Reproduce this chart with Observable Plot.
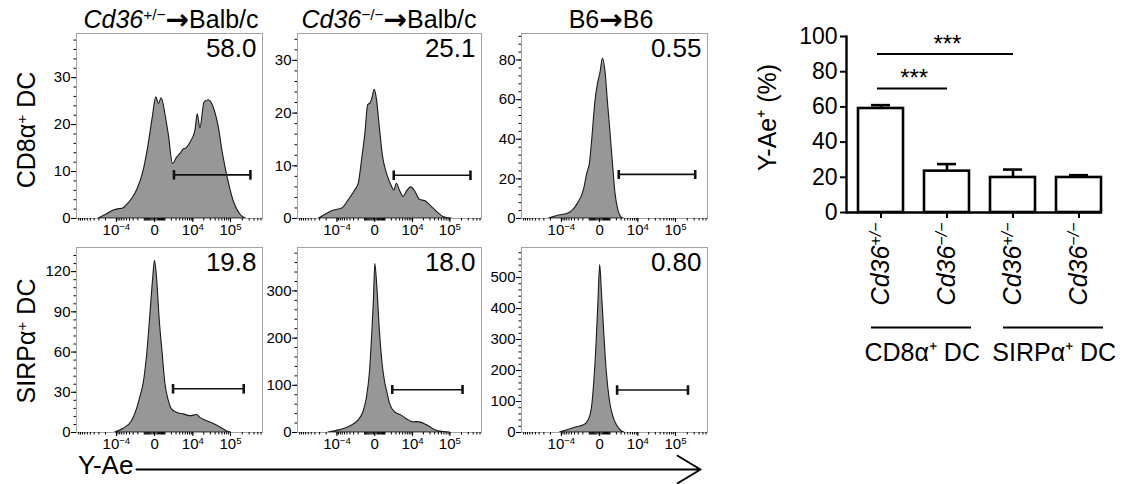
<!DOCTYPE html>
<html>
<head>
<meta charset="utf-8">
<script src="https://cdn.jsdelivr.net/npm/d3@7"></script>
<script src="https://cdn.jsdelivr.net/npm/@observablehq/plot@0.6"></script>
<style>
  html, body { margin: 0; padding: 0; background: #fff; }
  #fig { position: relative; width: 1136px; height: 484px; overflow: hidden;
         font-family: "Liberation Sans", Arial, Helvetica, sans-serif; color: #000; background: #fff; }
  #fig svg { position: absolute; }
</style>
</head>
<body>
<div id="fig"></div>
<script>
// ---------------- data ----------------
// column titles (donor -> recipient) and row labels (DC subset)
const colTitleItalic = ["Cd36", "Cd36", ""];
const colTitleSup = ["+/−", "−/−", ""];
const colTitleDonor = ["", "", "B6"];
const colTitleRecipient = ["Balb/c", "Balb/c", "B6"];
const rowLabelMain = ["CD8α", "SIRPα"];
const rowLabelSup = ["+", "+"];
const rowLabelEnd = [" DC", " DC"];
const axisTitle = "Y-Ae";

// histogram curves: [channel (0-100 display channel), count]
const histCd36HetCD8 = [[12,0],[16,0.8],[20,1.7],[23,2.0],[25,2.1],[27,2.8],[30,4.2],[33,6.4],[36,10],[38.8,15.8],[41,21.5],[42.9,25.8],[44.3,24.4],[45.8,25.6],[47.8,22.2],[49.6,17.9],[51.9,11.6],[54,12.9],[56,13.8],[57.6,14.7],[59,14.9],[61.2,16.1],[63.9,18.6],[65.2,22.2],[66.6,19.2],[68.8,24.7],[71.1,25.2],[72.2,24.9],[73.8,23.6],[76.5,19.4],[78.8,13.6],[81.9,7.6],[84.6,3.6],[88.2,0.8],[91,0]];
const histCd36KoCD8 = [[11.7,0],[16.2,0.9],[19.8,1.5],[24.3,1.9],[27.9,3.5],[31.5,5.4],[33.3,6.6],[35.1,11.1],[36.9,16.1],[38.4,21.5],[39.6,21.8],[40.5,22.5],[42,24.4],[43.2,22.5],[44.7,17.4],[46.5,11.7],[48.6,8.5],[51.4,6.0],[52.6,5.3],[54,6.6],[55.9,5.1],[57.7,4.1],[59.5,5.1],[61.8,5.9],[64,5.1],[66.7,3.5],[69.4,3.3],[72.1,2.5],[75.7,1.3],[79.3,0.3],[83.8,0]];
const histB6CD8 = [[14.8,0],[20.2,1.5],[24.6,2.3],[27.3,3.7],[30,7],[33.6,14.5],[35.4,22.8],[36.8,27.8],[38,39.5],[39.8,59.5],[41.1,67.8],[42.5,73.7],[43.8,80.8],[45.2,73.7],[46.4,59.5],[47.9,42.8],[49.3,26.2],[50.5,12.8],[52,4.5],[54.1,0.3],[55,0]];
const histCd36HetSIRP = [[20.8,0],[25.3,2.8],[29.8,8.4],[32.5,17.3],[34.3,26.2],[36.1,36.4],[37.9,56.7],[39.7,87.3],[41.1,112.7],[42.2,128],[43.3,115.3],[44.7,84.7],[46.3,59.3],[47.8,36.4],[49.6,23.7],[51.3,17.3],[54,14.8],[57.6,13.5],[61.2,12.2],[64.8,13],[66.6,10.9],[69.3,8.9],[73.8,6.4],[77.4,3.8],[81,0.8],[83.1,0]];
const histCd36KoSIRP = [[16.8,0],[23.1,5],[28.6,12.9],[33.1,25],[35.8,42.9],[37.6,71],[39.4,128.6],[40.7,214],[41.6,286],[42.3,357],[43.4,307],[44.8,214],[46.3,143],[47.6,107],[48.8,85.7],[50.3,60.7],[53,42.9],[56.6,35.7],[59.3,28.6],[62.9,21.4],[64.5,22],[66.5,21.4],[70.2,15.7],[73.8,7.1],[77.4,2.1],[82.8,0]];
const histB6SIRP = [[20.7,0],[26.1,9.6],[29.7,17],[33.3,22.3],[36,38.3],[37.8,75.5],[39.1,160.6],[40.2,267],[41.4,426.6],[42.3,540],[43.2,458.5],[44.5,320],[45.9,192.6],[47.4,107.4],[49.2,54.3],[51.4,22.3],[54.1,3.2],[55.3,0]];

const histCurves = [histCd36HetCD8, histCd36KoCD8, histB6CD8, histCd36HetSIRP, histCd36KoSIRP, histB6SIRP];
const histYMax = [39.4, 35.1, 93.4, 138, 392, 597];
const histYTicks = [[0,10,20,30],[0,10,20,30],[0,20,40,60,80],[0,30,60,90,120],[0,100,200,300],[0,100,200,300,400,500]];
const histYMinorStep = [2, 2, 4, 6, 20, 20];
const gatePercent = ["58.0", "25.1", "0.55", "19.8", "18.0", "0.80"];
const gateLow = [52.4, 52.3, 52.3, 51.9, 51.5, 51.4];
const gateHigh = [93.5, 94, 93.4, 89.9, 89.7, 89.5];
const gateLevel = [9.3, 8.2, 22.3, 32.6, 90.7, 137];

// Y-Ae axis (biexponential display)
const xMajorValues = [-1e4, 0, 1e4, 1e5];
const xMajorBase = ["10", "0", "10", "10"];
const xMajorExp = ["−4", "", "4", "5"];

// bar chart
const barGroup = ["CD8α⁺ DC", "CD8α⁺ DC", "SIRPα⁺ DC", "SIRPα⁺ DC"];
const barGenotype = ["+/−", "−/−", "+/−", "−/−"];
const barMean = [59.1, 23.5, 19.9, 19.9];
const barSem = [1.9, 4.0, 4.5, 1.3];
const barYTicks = [0, 20, 40, 60, 80, 100];
const barYLabel = "Y-Ae⁺ (%)";
const sigFrom = [0, 0];
const sigTo = [1, 2];
const sigLevel = [70.5, 90];
const sigText = ["***", "***"];

// ---------------- helpers ----------------
const FONT = "Liberation Sans, Arial, Helvetica, sans-serif";
const fig = document.getElementById("fig");
function place(el, left, top) {
  el.style.left = left + "px";
  el.style.top = top + "px";
  fig.appendChild(el);
}
function superscriptLabels(svg, selector, splitAt) {
  d3.select(svg).selectAll(selector).each(function () {
    const t = d3.select(this);
    const full = t.text();
    const k = splitAt(full);
    if (k <= 0 || k >= full.length) return;
    t.text(null);
    t.append("tspan").text(full.slice(0, k));
    t.append("tspan").attr("baseline-shift", "super").attr("font-size", "64%").text(full.slice(k));
  });
}

// biexponential-like display transform: fluorescence value -> display channel
const toChannel = v => 42 + 9.2 * Math.sign(v) * Math.log1p(Math.abs(v) / 1200);
const xMajorCh = xMajorValues.map(toChannel);
const xLabelByCh = new Map(xMajorCh.map((c, i) => [c, xMajorBase[i] + xMajorExp[i]]));
const xMinorCh = [];
for (const dec of [1e2, 1e3, 1e4, 1e5]) {
  for (let k = 1; k < 10; k++) {
    const p = toChannel(k * dec), n = toChannel(-k * dec);
    if (p <= 100) xMinorCh.push(p);
    if (n >= 0) xMinorCh.push(n);
  }
}
xMinorCh.push(42);

// ---------------- histograms ----------------
const colLeft = [76, 297, 521];
const colWidth = [186, 184, 186];
const rowTop = [33, 247];
const frameH = 185;
const ML = 46, MR = 4, MT = 4, MB = 34;

histCurves.forEach((curve, i) => {
  const col = i % 3, row = Math.floor(i / 3);
  const W = colWidth[col];
  const yMinor = d3.range(0, histYMax[i], histYMinorStep[i]);
  const gate = [{lo: gateLow[i], hi: gateHigh[i], y: gateLevel[i]}];
  const svg = Plot.plot({
    width: W + ML + MR, height: frameH + MT + MB,
    marginLeft: ML, marginRight: MR, marginTop: MT, marginBottom: MB,
    style: {fontFamily: FONT, background: "none", overflow: "visible", color: "#000"},
    x: {domain: [0, 100], label: null},
    y: {domain: [0, histYMax[i]], label: null},
    marks: [
      Plot.areaY(curve, {x: d => d[0], y: d => d[1], fill: "#979797", stroke: "#1a1a1a", strokeWidth: 1.1, curve: "monotone-x"}),
      Plot.frame({stroke: "#a3a3a3", strokeWidth: 1}),
      Plot.axisY({ticks: histYTicks[i], tickSize: 5, tickPadding: 1, fontSize: 15, label: null}),
      Plot.axisY({ticks: yMinor, tickSize: 2.5, tickFormat: () => "", label: null}),
      Plot.axisX({ticks: xMajorCh, tickSize: 4, tickPadding: 2, fontSize: 15, tickFormat: d => xLabelByCh.get(d), label: null}),
      Plot.axisX({ticks: xMinorCh, tickSize: 2.5, tickFormat: () => "", label: null}),
      Plot.link(gate, {x1: "lo", x2: "hi", y1: "y", y2: "y", stroke: "#111", strokeWidth: 1.6, marker: "tick"}),
      Plot.text([gatePercent[i]], {text: d => d, frameAnchor: "top-right", lineAnchor: "top", dx: -6, dy: 5, fontSize: 26})
    ]
  });
  superscriptLabels(svg, '[aria-label="x-axis tick label"] text', s => (s.startsWith("10") ? 2 : 0));
  place(svg, colLeft[col] - ML, rowTop[row] - MT);
});

// ---------------- Y-Ae arrow ----------------
const arrowSvg = Plot.plot({
  width: 568, height: 30, margin: 2,
  style: {background: "none", overflow: "visible"},
  x: {domain: [0, 1], axis: null},
  y: {domain: [0, 1], axis: null},
  marks: [
    Plot.arrow([axisTitle], {x1: 0, x2: 1, y1: 0.5, y2: 0.5, stroke: "#000", strokeWidth: 2, headLength: 20, headAngle: 62})
  ]
});
place(arrowSvg, 134, 454);

// ---------------- bar chart ----------------
const bars = barMean.map((m, i) => ({key: i + "|" + barGroup[i] + "|" + barGenotype[i], group: barGroup[i], geno: barGenotype[i], mean: m, sem: barSem[i]}));
const keys = bars.map(d => d.key);
const pI = 0.313, pO = 0.084, bandW = 256;
const step = bandW / (keys.length - pI + 2 * pO);
const groups = [
  {label: barGroup[0], from: keys[0], to: keys[1]},
  {label: barGroup[2], from: keys[2], to: keys[3]}
];
const sig = sigFrom.map((f, i) => ({from: keys[f], to: keys[sigTo[i]], y: sigLevel[i], text: sigText[i], span: sigTo[i] - f}));

const BML = 110, BMT = 36, BMR = 34, BH = 176, BMB = 160;
const barSvg = Plot.plot({
  width: BML + bandW + BMR, height: BMT + BH + BMB,
  marginLeft: BML, marginRight: BMR, marginTop: BMT, marginBottom: BMB,
  style: {fontFamily: FONT, background: "none", overflow: "visible", color: "#000"},
  x: {type: "band", domain: keys, paddingInner: pI, paddingOuter: pO, align: 0.955, label: null},
  y: {domain: [0, 100], label: null},
  marks: [
    Plot.barY(bars, {x: "key", y: "mean", fill: "#fff", stroke: "#000", strokeWidth: 2.6}),
    Plot.ruleX(bars, {x: "key", y1: "mean", y2: d => d.mean + d.sem, stroke: "#000", strokeWidth: 2.6}),
    Plot.tickY(bars, {x: "key", y: d => d.mean + d.sem, stroke: "#000", strokeWidth: 2.6, insetLeft: 13, insetRight: 13}),
    Plot.ruleY([0], {stroke: "#000", strokeWidth: 2.4}),
    Plot.frame({anchor: "left", stroke: "#000", strokeWidth: 2.4}),
    Plot.axisY({ticks: barYTicks, tickSize: 6, tickPadding: 3, fontSize: 23, strokeWidth: 2, label: null}),
    Plot.axisX({tickSize: 6, tickPadding: 4, tickRotate: -90, fontSize: 25, fontStyle: "italic", strokeWidth: 2,
                tickFormat: k => "Cd36" + k.split("|")[2], label: null}),
    Plot.text([barYLabel], {text: d => d, frameAnchor: "left", textAnchor: "middle", rotate: -90, dx: -79, dy: -7, fontSize: 25}),
    Plot.ruleY(groups, {x1: "from", x2: "to", y: 0, dy: 115, insetLeft: 13, insetRight: -2, stroke: "#000", strokeWidth: 2}),
    Plot.text(groups, {x: "from", y: 0, text: "label", dx: step / 2 + 8, dy: 140, fontSize: 25}),
    Plot.ruleY(sig, {x1: "from", x2: "to", y: "y", insetLeft: 19, insetRight: 22, stroke: "#000", strokeWidth: 2}),
    ...sig.map(s => Plot.text([s], {x: "from", y: "y", text: "text", dx: s.span * step / 2, lineAnchor: "bottom", dy: -2, fontSize: 24}))
  ]
});
superscriptLabels(barSvg, '[aria-label="x-axis tick label"] text', () => 4);
place(barSvg, 846 - BML, 0);

// ---------------- text overlay (titles, row labels, axis title) ----------------
const ov = d3.create("svg").attr("width", 1136).attr("height", 484)
  .style("font-family", FONT).style("pointer-events", "none");
const titleX = [171, 389, 611];
titleX.forEach((x, i) => {
  const t = ov.append("text").attr("x", x).attr("y", 27.5).attr("text-anchor", "middle").attr("font-size", 25);
  if (colTitleItalic[i]) t.append("tspan").attr("font-style", "italic").text(colTitleItalic[i]);
  if (colTitleSup[i]) t.append("tspan").attr("baseline-shift", "super").attr("font-size", "62%").text(colTitleSup[i]);
  if (colTitleDonor[i]) t.append("tspan").text(colTitleDonor[i]);
  t.append("tspan").attr("font-family", "DejaVu Sans").attr("font-weight", "bold").attr("font-size", 28).attr("dy", 1).text("→");
  t.append("tspan").attr("dy", -1).text(colTitleRecipient[i]);
});
const rowCY = [130, 341];
rowCY.forEach((y, i) => {
  const t = ov.append("text").attr("transform", `translate(35,${y}) rotate(-90)`).attr("text-anchor", "middle").attr("font-size", 25);
  t.append("tspan").text(rowLabelMain[i]);
  t.append("tspan").attr("baseline-shift", "super").attr("font-size", "62%").text(rowLabelSup[i]);
  t.append("tspan").text(rowLabelEnd[i]);
});
ov.append("text").attr("x", 78).attr("y", 474).attr("font-size", 26).text(axisTitle);
place(ov.node(), 0, 0);
</script>
</body>
</html>
